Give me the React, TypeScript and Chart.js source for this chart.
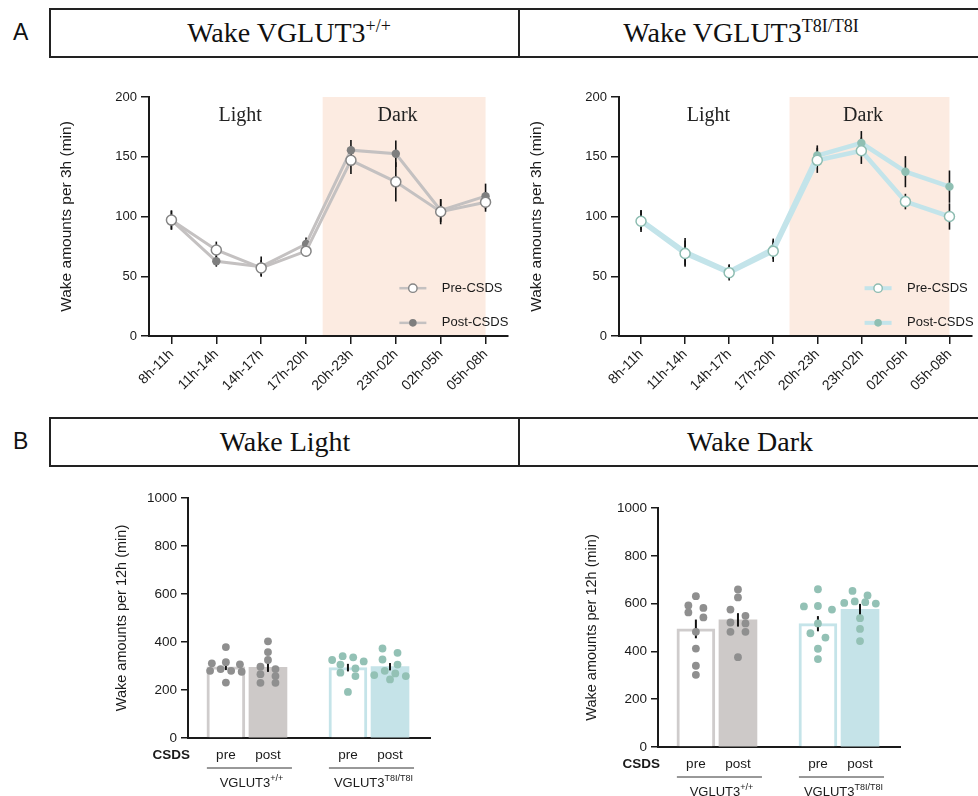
import React, { useEffect, useRef } from 'react';
import { Chart, registerables } from 'chart.js';

Chart.register(...registerables);

const SANS = '"Liberation Sans", Arial, Helvetica, sans-serif';
const SERIF = '"Liberation Serif", "Times New Roman", serif';
const INK = '#1a1a1a';

// ---------------- Panel A data: wake amounts per 3h (min) ----------------
const timeBins = ['8h-11h', '11h-14h', '14h-17h', '17h-20h', '20h-23h', '23h-02h', '02h-05h', '05h-08h'];
const yTicks3h = [0, 50, 100, 150, 200];
const wtPreMean = [97, 72, 57, 71, 147, 129, 104, 112];
const wtPreSem = [8, 7, 6.5, 4.5, 11.5, 16.5, 10.5, 8];
const wtPostMean = [97, 62.5, 58, 77, 155.5, 152.5, 105, 117];
const wtPostSem = [8, 4.5, 8.5, 5.5, 8.5, 11, 9.5, 10.5];
const t8iPreMean = [96, 69, 53, 71, 147, 155, 112.5, 100];
const t8iPreSem = [9, 11, 6.5, 9, 10.5, 11, 6.5, 11];
const t8iPostMean = [97, 70.5, 54, 73, 151, 161.5, 137.5, 125];
const t8iPostSem = [8.5, 11.5, 6, 8.5, 8.5, 10, 13, 13.5];
const darkSpan = [3.37, 7];
const phaseLabels = ['Light', 'Dark'];
const legendLabels = ['Pre-CSDS', 'Post-CSDS'];

// ---------------- Panel B data: wake amounts per 12h (min), individual mice ----------------
const yTicks12h = [0, 200, 400, 600, 800, 1000];
const csdsLabels = ['pre', 'post'];
const genotypeMain = ['VGLUT3', 'VGLUT3'];
const genotypeSup = ['+/+', 'T8I/T8I'];
const wtLightPre = [379, 316, 311, 307, 287, 280, 280, 276, 231];
const wtLightPost = [403, 358, 325, 297, 287, 266, 258, 230, 230];
const t8iLightPre = [341, 336, 325, 319, 306, 290, 272, 258, 192];
const t8iLightPost = [373, 355, 327, 306, 280, 269, 262, 258, 244];
const wtDarkPre = [631, 592, 582, 563, 542, 482, 412, 340, 302];
const wtDarkPost = [659, 626, 575, 549, 521, 517, 482, 482, 376];
const t8iDarkPre = [660, 590, 588, 575, 517, 476, 458, 411, 368];
const t8iDarkPost = [653, 634, 609, 606, 603, 600, 539, 494, 443];

// ---------------- layout / style constants ----------------
const PHASE_LABEL_POS = [1.53, 5.04];
const PHASE_LABEL_Y = 184;
const LEGEND_X = 5.38;
const LEGEND_Y = [40, 11];
const GROUP_GAP = 0.9;
const X_RANGE_B = [0.1, 5.85];

const greyStyle = { line: '#c4c1c1', lw: 3, preEdge: '#858585', postFill: '#7e7e7e' };
const tealStyle = { line: '#c3e4ea', lw: 4.5, preEdge: '#8dbcb1', postFill: '#8fbfb3' };
const barFills = ['#ffffff', '#cdc9c8', '#ffffff', '#c5e3e8'];
const barEdges = ['#cfcccc', '#cdc9c8', '#c5e4e9', '#c5e3e8'];
const barEdgeWidths = [3, 0, 3, 0];
const dotColors = ['#8f8f8f', '#8f8f8f', '#93c1b5', '#93c1b5'];

const mean = (a: number[]) => a.reduce((s, v) => s + v, 0) / a.length;
const sem = (a: number[]) => {
  const m = mean(a);
  const v = a.reduce((s, x) => s + (x - m) * (x - m), 0) / (a.length - 1);
  return Math.sqrt(v / a.length);
};
const slotX = (g: number, c: number) => 1 + g * (2 + GROUP_GAP) + c;

// Prism-like row layout of the dots: values close together share a row, spread horizontally
function rowOffsets(values: number[]) {
  const rowTol = 27;
  const maxSpacing = 0.357;
  const width = 1.0;
  const idx = values.map((_, i) => i).sort((a, b) => values[b] - values[a]);
  const off = new Array(values.length).fill(0);
  let row: number[] = [];
  let start: number | null = null;
  const flush = () => {
    const n = row.length;
    if (!n) return;
    const s = Math.min(maxSpacing, width / n);
    const slots: number[] = [];
    for (let k = 0; k < n; k++) slots.push((k - (n - 1) / 2) * s);
    slots.sort((a, b) => Math.abs(a) - Math.abs(b) || a - b);
    row.forEach((i, k) => (off[i] = slots[k]));
    row = [];
  };
  for (const i of idx) {
    if (start === null || start - values[i] > rowTol) {
      flush();
      start = values[i];
    }
    row.push(i);
  }
  flush();
  return off;
}

function drawSupText(ctx: any, main: string, sup: string, cx: number, cy: number, size: number, supSize: number) {
  ctx.font = `${size}px ${SANS}`;
  const w1 = ctx.measureText(main).width;
  ctx.font = `${supSize}px ${SANS}`;
  const w2 = ctx.measureText(sup).width;
  const x0 = cx - (w1 + w2) / 2;
  ctx.textAlign = 'left';
  ctx.textBaseline = 'middle';
  ctx.font = `${size}px ${SANS}`;
  ctx.fillText(main, x0, cy);
  ctx.font = `${supSize}px ${SANS}`;
  ctx.fillText(sup, x0 + w1, cy - size * 0.38);
}

// ---------------- Line panel ----------------
function LinePanel({ geo, pre, preSem, post, postSem, st }: any) {
  const ref = useRef<HTMLCanvasElement>(null);
  useEffect(() => {
    const shade = {
      id: 'shade',
      beforeDraw(chart: any) {
        const { ctx, chartArea, scales } = chart;
        const x0 = scales.x.getPixelForValue(darkSpan[0]);
        const x1 = scales.x.getPixelForValue(darkSpan[1]);
        ctx.save();
        ctx.fillStyle = '#fcebe1';
        ctx.fillRect(x0, chartArea.top, x1 - x0, chartArea.bottom - chartArea.top);
        ctx.restore();
      },
    };
    const errBars = {
      id: 'errBars',
      beforeDatasetsDraw(chart: any) {
        const { ctx, scales } = chart;
        ctx.save();
        ctx.strokeStyle = '#111';
        ctx.lineWidth = 1.6;
        [[pre, preSem], [post, postSem]].forEach(([m, s]: any) => {
          m.forEach((v: number, i: number) => {
            const px = scales.x.getPixelForValue(i);
            ctx.beginPath();
            ctx.moveTo(px, scales.y.getPixelForValue(v + s[i]));
            ctx.lineTo(px, scales.y.getPixelForValue(v - s[i]));
            ctx.stroke();
          });
        });
        ctx.restore();
      },
    };
    const annot = {
      id: 'annot',
      afterDraw(chart: any) {
        const { ctx, scales } = chart;
        ctx.save();
        ctx.fillStyle = '#222';
        ctx.font = `20px ${SERIF}`;
        ctx.textAlign = 'center';
        ctx.textBaseline = 'middle';
        phaseLabels.forEach((t, i) => {
          ctx.fillText(t, scales.x.getPixelForValue(PHASE_LABEL_POS[i]), scales.y.getPixelForValue(PHASE_LABEL_Y));
        });
        const cx = scales.x.getPixelForValue(LEGEND_X);
        legendLabels.forEach((t, i) => {
          const cy = scales.y.getPixelForValue(LEGEND_Y[i]);
          ctx.strokeStyle = st.line;
          ctx.lineWidth = st.lw - 0.5;
          ctx.beginPath();
          ctx.moveTo(cx - 13.5, cy);
          ctx.lineTo(cx + 13.5, cy);
          ctx.stroke();
          ctx.beginPath();
          ctx.arc(cx, cy, i === 0 ? 4.2 : 3.8, 0, Math.PI * 2);
          if (i === 0) {
            ctx.fillStyle = '#fff';
            ctx.fill();
            ctx.lineWidth = 1.4;
            ctx.strokeStyle = st.preEdge;
            ctx.stroke();
          } else {
            ctx.fillStyle = st.postFill;
            ctx.fill();
          }
          ctx.fillStyle = INK;
          ctx.font = `13px ${SANS}`;
          ctx.textAlign = 'left';
          ctx.fillText(t, cx + 29, cy);
        });
        ctx.restore();
      },
    };
    const chart = new Chart(ref.current as HTMLCanvasElement, {
      type: 'line',
      data: {
        labels: timeBins,
        datasets: [
          {
            label: legendLabels[0], data: pre, borderColor: st.line, borderWidth: st.lw, tension: 0,
            pointRadius: 5, pointBorderWidth: 1.5, pointBackgroundColor: '#fff', pointBorderColor: st.preEdge, order: 1,
          },
          {
            label: legendLabels[1], data: post, borderColor: st.line, borderWidth: st.lw, tension: 0,
            pointRadius: 4.2, pointBorderWidth: 0, pointBackgroundColor: st.postFill, pointBorderColor: st.postFill, order: 2,
          },
        ],
      },
      options: {
        responsive: false,
        animation: false,
        layout: { padding: { left: geo.padLeft, top: geo.padTop, right: geo.padRight, bottom: 0 } },
        plugins: { legend: { display: false }, tooltip: { enabled: false } },
        scales: {
          x: {
            type: 'category', offset: true,
            grid: { display: true, drawOnChartArea: false, offset: false, tickLength: 8, color: INK, lineWidth: 1.5 },
            border: { display: true, color: INK, width: 2 },
            ticks: { minRotation: 45, maxRotation: 45, autoSkip: false, color: INK, padding: 2, font: { size: 14, family: SANS } },
            afterFit: (s: any) => { s.height = geo.xh; },
          },
          y: {
            min: 0, max: 200,
            afterBuildTicks: (s: any) => { s.ticks = yTicks3h.map((v) => ({ value: v })); },
            grid: { display: true, drawOnChartArea: false, tickLength: 8, color: INK, lineWidth: 1.5 },
            border: { display: true, color: INK, width: 2 },
            ticks: { color: INK, padding: 4, font: { size: 13, family: SANS }, callback: (v: any) => String(v) },
            title: { display: true, text: 'Wake amounts per 3h (min)', color: INK, font: { size: 15.5, family: SANS }, padding: { top: 3, bottom: 4 } },
            afterFit: (s: any) => { s.width = geo.yw; },
          },
        },
      },
      plugins: [shade, errBars, annot],
    } as any);
    return () => chart.destroy();
  }, []);
  return (
    <canvas
      ref={ref}
      width={geo.w}
      height={geo.h}
      style={{ position: 'absolute', left: geo.left, top: geo.top, width: geo.w, height: geo.h }}
    />
  );
}

// ---------------- Bar panel ----------------
function BarPanel({ geo, groups }: any) {
  const ref = useRef<HTMLCanvasElement>(null);
  useEffect(() => {
    const xs = [0, 1, 2, 3].map((i) => slotX(Math.floor(i / 2), i % 2));
    const means = groups.map(mean);
    const sems = groups.map(sem);
    const dotSets = groups.map((vals: number[], i: number) => {
      const off = rowOffsets(vals);
      return {
        type: 'scatter',
        data: vals.map((v, k) => ({ x: xs[i] + off[k], y: v })),
        pointRadius: 3.9,
        pointBorderWidth: 0,
        pointBackgroundColor: dotColors[i],
        pointBorderColor: dotColors[i],
        order: 1,
      };
    });
    const errBars = {
      id: 'barErr',
      afterDatasetDraw(chart: any, args: any) {
        if (args.index !== 0) return;
        const { ctx, scales } = chart;
        ctx.save();
        ctx.strokeStyle = '#111';
        ctx.lineWidth = 2;
        xs.forEach((x, i) => {
          const px = scales.x.getPixelForValue(x);
          ctx.beginPath();
          ctx.moveTo(px, scales.y.getPixelForValue(means[i] + sems[i]));
          ctx.lineTo(px, scales.y.getPixelForValue(means[i] - sems[i]));
          ctx.stroke();
        });
        ctx.restore();
      },
    };
    const labels = {
      id: 'barLabels',
      afterDraw(chart: any) {
        const { ctx, chartArea, scales } = chart;
        const base = chartArea.bottom;
        ctx.save();
        ctx.fillStyle = INK;
        ctx.textAlign = 'center';
        ctx.textBaseline = 'middle';
        ctx.font = `13.5px ${SANS}`;
        xs.forEach((x, i) => ctx.fillText(csdsLabels[i % 2], scales.x.getPixelForValue(x), base + 17.5));
        ctx.font = `bold 13.5px ${SANS}`;
        ctx.textAlign = 'right';
        ctx.fillText('CSDS', chartArea.left + 2, base + 17.5);
        for (let g = 0; g < 2; g++) {
          const x0 = scales.x.getPixelForValue(xs[2 * g]) - 19;
          const x1 = scales.x.getPixelForValue(xs[2 * g + 1]) + 24;
          ctx.strokeStyle = '#333';
          ctx.lineWidth = 1;
          ctx.beginPath();
          ctx.moveTo(x0, base + 30);
          ctx.lineTo(x1, base + 30);
          ctx.stroke();
          drawSupText(ctx, genotypeMain[g], genotypeSup[g], (x0 + x1) / 2 + 2, base + 45, 13, 9);
        }
        ctx.restore();
      },
    };
    const chart = new Chart(ref.current as HTMLCanvasElement, {
      type: 'bar',
      data: {
        datasets: [
          {
            type: 'bar',
            data: xs.map((x, i) => ({ x, y: means[i] })),
            backgroundColor: barFills,
            borderColor: barEdges,
            borderWidth: barEdgeWidths,
            barThickness: 38,
            order: 2,
          },
          ...dotSets,
        ],
      },
      options: {
        responsive: false,
        animation: false,
        layout: { padding: { left: geo.padLeft, top: geo.padTop, right: geo.padRight, bottom: 0 } },
        plugins: { legend: { display: false }, tooltip: { enabled: false } },
        scales: {
          x: {
            type: 'linear', min: X_RANGE_B[0], max: X_RANGE_B[1], offset: false,
            ticks: { display: false },
            grid: { display: false },
            border: { display: true, color: INK, width: 2 },
            afterFit: (s: any) => { s.height = geo.xh; },
          },
          y: {
            min: 0, max: 1000,
            afterBuildTicks: (s: any) => { s.ticks = yTicks12h.map((v) => ({ value: v })); },
            grid: { display: true, drawOnChartArea: false, tickLength: 7, color: INK, lineWidth: 1.5 },
            border: { display: true, color: INK, width: 2 },
            ticks: { color: INK, padding: 4, font: { size: 13.5, family: SANS }, callback: (v: any) => String(v) },
            title: { display: true, text: 'Wake amounts per 12h (min)', color: INK, font: { size: 14.5, family: SANS }, padding: { top: 4, bottom: 4 } },
            afterFit: (s: any) => { s.width = geo.yw; },
          },
        },
      },
      plugins: [errBars, labels],
    } as any);
    return () => chart.destroy();
  }, []);
  return (
    <canvas
      ref={ref}
      width={geo.w}
      height={geo.h}
      style={{ position: 'absolute', left: geo.left, top: geo.top, width: geo.w, height: geo.h }}
    />
  );
}

// ---------------- headers ----------------
function HeaderBox({ top }: any) {
  return (
    <>
      <div style={{ position: 'absolute', left: 49, top, width: 960, height: 50, boxSizing: 'border-box', borderTop: '2px solid #222', borderBottom: '2px solid #222', borderLeft: '2px solid #222' }} />
      <div style={{ position: 'absolute', left: 518, top, width: 2, height: 50, background: '#222' }} />
    </>
  );
}

function HeaderTitle({ cx, top, main, sup }: any) {
  return (
    <div style={{ position: 'absolute', left: cx - 250, width: 500, top, height: 50, lineHeight: '50px', textAlign: 'center', fontFamily: SERIF, fontSize: 28, color: '#111', whiteSpace: 'nowrap' }}>
      {main}
      {sup ? <span style={{ fontSize: 18, position: 'relative', top: -10 }}>{sup}</span> : null}
    </div>
  );
}

function PanelLetter({ top, text }: any) {
  return (
    <div style={{ position: 'absolute', left: 13, top, fontFamily: SANS, fontSize: 23, lineHeight: '26px', color: '#111' }}>{text}</div>
  );
}

const geoA1 = { left: 0, top: 80, w: 515, h: 320, padLeft: 54, yw: 95, padTop: 17, padRight: 7, xh: 64 };
const geoA2 = { left: 470, top: 80, w: 508, h: 320, padLeft: 54, yw: 95, padTop: 17, padRight: 0, xh: 64 };
const geoB1 = { left: 0, top: 470, w: 519, h: 326, padLeft: 109, yw: 79, padTop: 28, padRight: 89, xh: 58 };
const geoB2 = { left: 470, top: 480, w: 508, h: 316, padLeft: 109, yw: 79, padTop: 28, padRight: 78, xh: 49 };

export default function App() {
  return (
    <div style={{ position: 'fixed', left: 0, top: 0, width: 978, height: 796, background: '#fff', overflow: 'hidden' }}>
      <PanelLetter top={19} text="A" />
      <HeaderBox top={8} />
      <HeaderTitle cx={289} top={8} main="Wake VGLUT3" sup="+/+" />
      <HeaderTitle cx={741} top={8} main="Wake VGLUT3" sup="T8I/T8I" />
      <LinePanel geo={geoA1} pre={wtPreMean} preSem={wtPreSem} post={wtPostMean} postSem={wtPostSem} st={greyStyle} />
      <LinePanel geo={geoA2} pre={t8iPreMean} preSem={t8iPreSem} post={t8iPostMean} postSem={t8iPostSem} st={tealStyle} />
      <PanelLetter top={428} text="B" />
      <HeaderBox top={417} />
      <HeaderTitle cx={285} top={417} main="Wake Light" />
      <HeaderTitle cx={750} top={417} main="Wake Dark" />
      <BarPanel geo={geoB1} groups={[wtLightPre, wtLightPost, t8iLightPre, t8iLightPost]} />
      <BarPanel geo={geoB2} groups={[wtDarkPre, wtDarkPost, t8iDarkPre, t8iDarkPost]} />
    </div>
  );
}
